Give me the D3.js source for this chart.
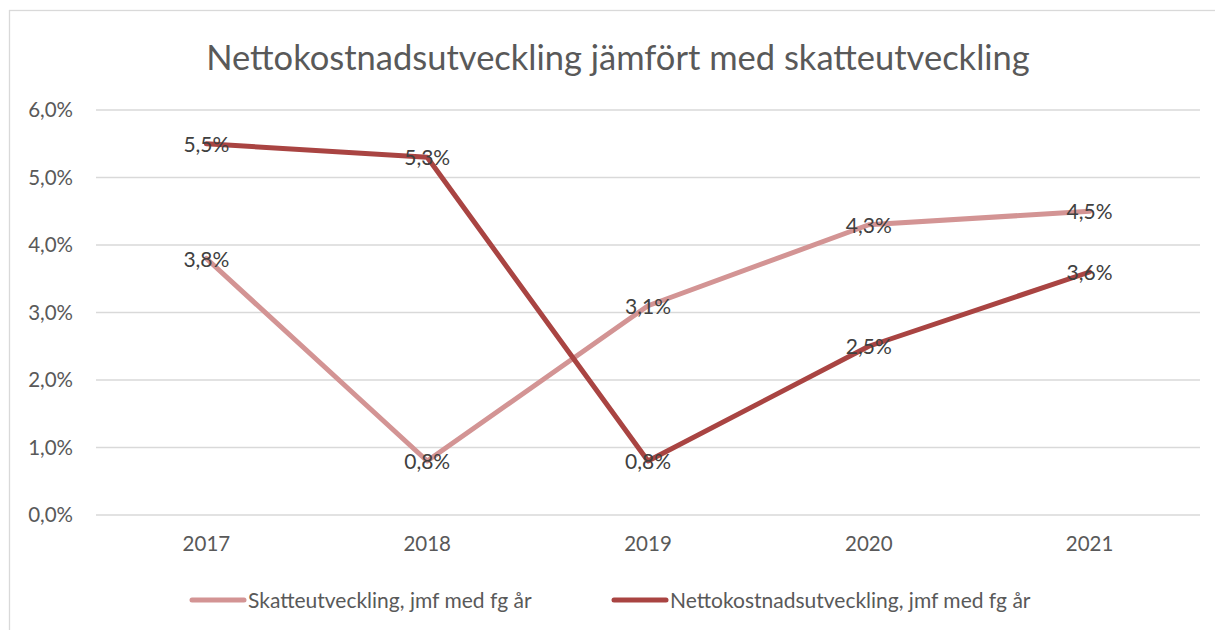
<!DOCTYPE html>
<html>
<head>
<meta charset="utf-8">
<script src="https://cdn.jsdelivr.net/npm/d3@7"></script>
<style>
  body { margin: 0; background: #fff; }
  text { font-family: Lato, "Open Sans", sans-serif; }
</style>
</head>
<body>
<div id="chart"></div>
<script>
// data
const years = ["2017", "2018", "2019", "2020", "2021"];
const skattValues = [3.8, 0.8, 3.1, 4.3, 4.5];
const nettoValues = [5.5, 5.3, 0.8, 2.5, 3.6];
const seriesNames = ["Skatteutveckling, jmf med fg år", "Nettokostnadsutveckling, jmf med fg år"];
const yTicks = [0, 1, 2, 3, 4, 5, 6];

const width = 1215;
const height = 630;
const colors = ["#d39494", "#a94442"];

const svg = d3.select("#chart").append("svg")
    .attr("width", width)
    .attr("height", height)

//outer chart border
svg.append("rect")
    .attr("x", 9.5).attr("y", 10.5)
    .attr("width", width).attr("height", height)
    .attr("fill", "none")
    .attr("stroke", "#d9d9d9")
    .attr("stroke-width", 1.3)

svg.append("text")
    .attr("x", 618)
    .attr("y", 70)
    .attr("text-anchor", "middle")
    .attr("fill", "#595959")
    .style("font-size", "34.5px")
    .text("Nettokostnadsutveckling jämfört med skatteutveckling")

const xScale = d3.scaleBand().domain(years).range([96, 1200])
const yScale = d3.scaleLinear().domain([0, 6]).range([515, 110])

// gridlines
svg.append("g")
    .selectAll("line")
    .data(yTicks)
    .join("line")
    .attr("x1", 96).attr("x2", 1200)
    .attr("y1", d => yScale(d)).attr("y2", d => yScale(d))
    .attr("stroke", "#d9d9d9")
    .attr("stroke-width", 1.3)

const fmt = v => d3.format(".1f")(v).replace(".", ",") + "%"

const yAxis = svg.append("g")
    .attr("transform", `translate(${73}, 0)`)
    .call(d3.axisLeft(yScale).tickValues(yTicks).tickSize(0).tickPadding(0).tickFormat(fmt))
yAxis.select(".domain").remove()
yAxis.selectAll("text").attr("fill", "#595959").style("font-size", "20.5px")

const xAxis = svg.append("g")
    .attr("transform", `translate(0, ${515})`)
    .call(d3.axisBottom(xScale).tickSize(0).tickPadding(21))
xAxis.select(".domain").remove()
xAxis.selectAll("text").attr("fill", "#595959").style("font-size", "20.5px")

const cx = d => xScale(d) + xScale.bandwidth() / 2
const line = d3.line().x(d => cx(d.year)).y(d => yScale(d.value))

const series = [skattValues, nettoValues].map((vals, i) => ({
    name: seriesNames[i],
    color: colors[i],
    points: years.map((y, j) => ({ year: y, value: vals[j] }))
}))

series.forEach(s => {
    svg.append("path")
        .datum(s.points)
        .attr("d", line)
        .attr("fill", "none")
        .attr("stroke", s.color)
        .attr("stroke-width", 5)
        .attr("stroke-linejoin", "round")
        .attr("stroke-linecap", "round")
})

// data labels on top of the lines
series.forEach(s => {
    svg.append("g")
        .selectAll("text")
        .data(s.points)
        .join("text")
        .attr("x", d => cx(d.year))
        .attr("y", d => yScale(d.value) + 8)
        .attr("text-anchor", "middle")
        .attr("fill", "#404040")
        .style("font-size", "21px")
        .text(d => fmt(d.value))
})

// legend
const legendX = [190, 612]
series.forEach((s, i) => {
    const g = svg.append("g").attr("transform", `translate(${legendX[i]}, 600)`)
    g.append("line")
        .attr("x1", 2).attr("x2", 54)
        .attr("stroke", s.color)
        .attr("stroke-width", 5)
        .attr("stroke-linecap", "round")
    g.append("text")
        .attr("x", 58)
        .attr("y", 8)
        .attr("fill", "#595959")
        .style("font-size", "21px")
        .text(s.name)
})
</script>
</body>
</html>
